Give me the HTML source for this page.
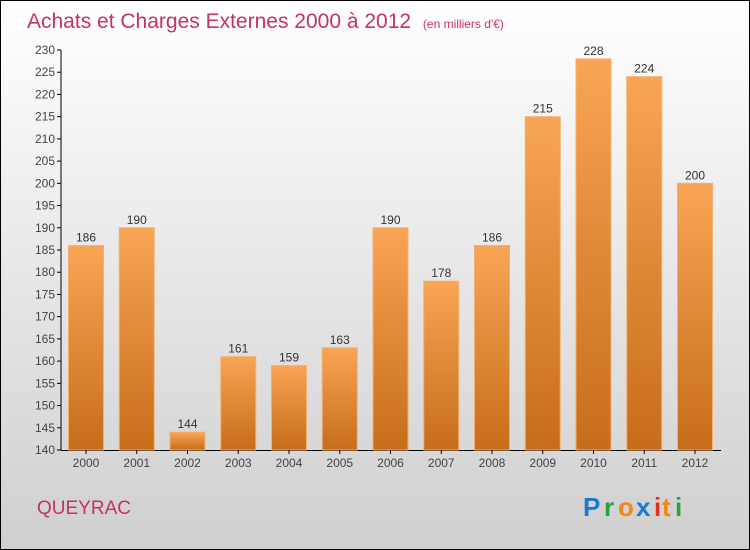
<!DOCTYPE html>
<html><head><meta charset="utf-8"><style>
body{margin:0;}
#c{position:relative;width:748px;height:548px;border:1px solid #000;background:linear-gradient(#ffffff,#cfcfcf);font-family:"Liberation Sans",sans-serif;overflow:hidden;}
</style></head><body>
<div id="c">
<svg id="s" width="748" height="548" xmlns="http://www.w3.org/2000/svg">
<defs><linearGradient id="g" x1="0" y1="0" x2="0" y2="1"><stop offset="0" stop-color="#f8a555"/><stop offset="1" stop-color="#c66d1a"/></linearGradient></defs>
<text x="26" y="27" font-size="21" fill="#c8325e">Achats et Charges Externes 2000 à 2012 <tspan font-size="12" dx="6">(en milliers d'€)</tspan></text>
<text x="36" y="513" font-size="19" fill="#c8325e">QUEYRAC</text>
<g font-size="26" font-weight="bold">
<text x="582" y="515" fill="#1a7ad0">P</text><text x="603" y="515" fill="#2aa040">r</text><text x="617" y="515" fill="#f08a10">o</text><text x="635" y="515" fill="#1a7ad0">x</text><text x="653" y="515" fill="#e03020">i</text><text x="661" y="515" fill="#f08a10">t</text><text x="674" y="515" fill="#2aa040">i</text>
</g>
</svg>
</div>
<script>
const categories=["2000","2001","2002","2003","2004","2005","2006","2007","2008","2009","2010","2011","2012"];
const values=[186,190,144,161,159,163,190,178,186,215,228,224,200];
const yTicks=[140,145,150,155,160,165,170,175,180,185,190,195,200,205,210,215,220,225,230];
const NS="http://www.w3.org/2000/svg";
const s=document.getElementById('s');
const y0=449,yMin=140,yMax=230,yTop=49;
function Y(v){return y0-(v-yMin)/(yMax-yMin)*(y0-yTop);}
function X(i){return 85+i*50.75;}
function el(t,a){const e=document.createElementNS(NS,t);for(const k in a)e.setAttribute(k,a[k]);s.appendChild(e);return e;}
const ax=el('line',{x1:60,y1:Y(yMax),x2:60,y2:y0,stroke:'#000','stroke-width':1});


const bx=el('line',{x1:60,y1:y0+0.5,x2:720,y2:y0+0.5,stroke:'#000','stroke-width':1});


yTicks.forEach(v=>{
 const t=el('line',{x1:56,y1:Y(v),x2:60,y2:Y(v),stroke:'#000'});
 
 
 const l=el('text',{x:54,y:Y(v)+4,'font-size':12,fill:'#444','text-anchor':'end'});
 l.textContent=v;
 
 
});
categories.forEach((c,i)=>{
 const r=el('rect',{x:X(i)-17.5,y:Y(values[i]),width:35,height:y0-Y(values[i]),fill:'url(#g)',stroke:'#f4b070','stroke-width':1});
 
 
 const v=el('text',{x:X(i),y:Y(values[i])-4,'font-size':12,fill:'#333','text-anchor':'middle'});
 v.textContent=values[i];
 
 
 const t=el('line',{x1:X(i),y1:y0,x2:X(i),y2:y0+4,stroke:'#000'});
 
 
 const l=el('text',{x:X(i),y:466,'font-size':12,fill:'#444','text-anchor':'middle'});
 l.textContent=c;
 
 
});
</script>
</body></html>
